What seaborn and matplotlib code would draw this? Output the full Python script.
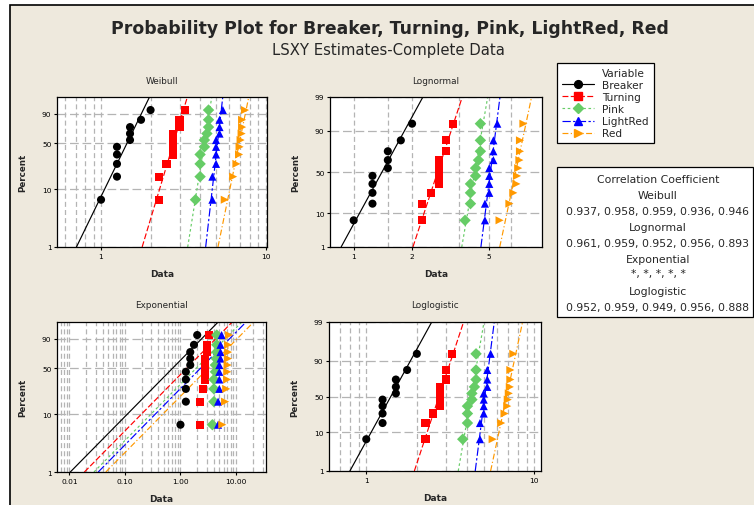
import numpy as np
import pandas as pd
import matplotlib.pyplot as plt
import seaborn as sns
from matplotlib.patches import Rectangle
from matplotlib.lines import Line2D
from matplotlib.ticker import NullFormatter, NullLocator
from statistics import NormalDist

np.seterr(all="ignore")

# ==============================
# Data
# ==============================
variables = ["Breaker", "Turning", "Pink", "LightRed", "Red"]
breaker = [1.0, 1.25, 1.25, 1.25, 1.25, 1.5, 1.5, 1.5, 1.75, 2.0]
turning = [2.25, 2.25, 2.5, 2.75, 2.75, 2.75, 2.75, 3.0, 3.0, 3.25]
pink = [3.75, 4.0, 4.0, 4.0, 4.25, 4.25, 4.4, 4.5, 4.5, 4.5]
lightred = [4.75, 4.75, 5.0, 5.0, 5.0, 5.0, 5.25, 5.25, 5.25, 5.5]
red = [5.65, 6.35, 6.65, 6.9, 6.95, 7.05, 7.15, 7.2, 7.2, 7.5]
percent = [6.7, 16.3, 25.9, 35.6, 45.2, 54.8, 64.4, 74.0, 83.7, 93.3]

corr_weibull = [0.937, 0.958, 0.959, 0.936, 0.946]
corr_lognormal = [0.961, 0.959, 0.952, 0.956, 0.893]
corr_loglogistic = [0.952, 0.959, 0.949, 0.956, 0.888]

series = dict(zip(variables, [breaker, turning, pink, lightred, red]))

palette = {"Breaker": "black", "Turning": "#FF0000", "Pink": "#66CC66",
           "LightRed": "#0000FF", "Red": "#FF9900"}
markers = {"Breaker": "o", "Turning": "s", "Pink": "D", "LightRed": "^", "Red": ">"}
dashes = {"Breaker": "", "Turning": (5, 2), "Pink": (2.2, 2.2),
          "LightRed": (7, 2, 2, 2), "Red": (5, 2, 1, 2)}

W, H = 754, 506


# ==============================
# Probability scales
# ==============================
def _q(p):
    return np.clip(np.asarray(p, dtype=float), 1e-6, 100 - 1e-6) / 100


def weib_f(p):
    q = _q(p)
    return np.log(-np.log(1 - q))


def weib_i(w):
    w = np.clip(np.asarray(w, dtype=float), -60, 4)
    return 100 * (1 - np.exp(-np.exp(w)))


_nd = NormalDist()
_ppf = np.vectorize(_nd.inv_cdf, otypes=[float])
_cdf = np.vectorize(_nd.cdf, otypes=[float])


def lnorm_f(p):
    return _ppf(_q(p))


def lnorm_i(z):
    return 100 * _cdf(np.clip(np.asarray(z, dtype=float), -40, 40))


def llog_f(p):
    q = _q(p)
    return np.log(q / (1 - q))


def llog_i(z):
    z = np.clip(np.asarray(z, dtype=float), -60, 60)
    return 100 / (1 + np.exp(-z))


panels = [
    dict(name="Weibull", fwd=weib_f, inv=weib_i, box=(57, 98, 267, 248),
         xlim=(0.54, 10.2), xticks=[1, 10], xlabels=["1", "10"],
         xgrid=[0.6, 0.7, 0.8, 0.9, 2, 3, 4, 5, 6, 7, 8, 9],
         yticks=[1, 10, 50, 90], kind="ls"),
    dict(name="Lognormal", fwd=lnorm_f, inv=lnorm_i, box=(330, 98, 542, 248),
         xlim=(0.755, 9.35), xticks=[1, 2, 5], xlabels=["1", "2", "5"],
         xgrid=[1.5, 3.5, 6.5],
         yticks=[1, 10, 50, 90, 99], kind="ls"),
    dict(name="Exponential", fwd=weib_f, inv=weib_i, box=(57, 323, 266, 473),
         xlim=(0.006, 34.6), xticks=[0.01, 0.1, 1, 10],
         xlabels=["0.01", "0.10", "1.00", "10.00"],
         xgrid=[m * d for d in [0.001, 0.01, 0.1, 1, 10] for m in range(2, 10)],
         yticks=[1, 10, 50, 90], kind="exp"),
    dict(name="Loglogistic", fwd=llog_f, inv=llog_i, box=(329, 323, 541, 472),
         xlim=(0.6, 10.96), xticks=[1, 10], xlabels=["1", "10"],
         xgrid=[0.7, 0.8, 0.9, 2, 3, 4, 5, 6, 7, 8, 9],
         yticks=[1, 10, 50, 90, 99], kind="ls"),
]

# long-form points table
pts = pd.DataFrame([(v, x, p) for v in variables
                    for x, p in zip(series[v], percent)],
                   columns=["Variable", "Data", "Percent"])


def fit_lines(cfg):
    # LSXY: regress (log) data on the transformed percent
    rows = []
    pct = np.array(percent)
    for v in variables:
        x = np.array(series[v])
        ends = np.array([1.0, 99.0])
        if cfg["kind"] == "exp":
            z = -np.log(1 - pct / 100)
            theta = np.sum(x * z) / np.sum(z * z)
            xs = theta * (-np.log(1 - ends / 100))
        else:
            b, a = np.polyfit(cfg["fwd"](pct), np.log(x), 1)
            xs = np.exp(a + b * cfg["fwd"](ends))
        for xx, pp in zip(xs, ends):
            rows.append((v, xx, pp))
    return pd.DataFrame(rows, columns=["Variable", "Data", "Percent"])


# ==============================
# Figure
# ==============================
sns.set_style("white")
plt.rcParams["font.family"] = ["DejaVu Sans"]

fig = plt.figure(figsize=(W / 100, H / 100), dpi=100)
fig.patch.set_facecolor("white")
bg = Rectangle((10 / W, -0.05), 1.1, 1.05 - 6 / H, transform=fig.transFigure,
               facecolor="#EEE9DD", edgecolor="black", linewidth=1.2, zorder=-5)
fig.add_artist(bg)

fig.text(390 / W, 1 - 29 / H, "Probability Plot for Breaker, Turning, Pink, LightRed, Red",
         ha="center", va="center", fontsize=12.4, fontweight="bold")
fig.text(388 / W, 1 - 50 / H, "LSXY Estimates-Complete Data",
         ha="center", va="center", fontsize=10.7)

grid_c = "#B4B4B4"
for cfg in panels:
    l, t, r, b = cfg["box"]
    ax = fig.add_axes([l / W, 1 - b / H, (r - l) / W, (b - t) / H])
    ax.set_facecolor("white")
    ax.set_xscale("log")
    ax.set_yscale("function", functions=(cfg["fwd"], cfg["inv"]))

    lines = fit_lines(cfg)
    sns.lineplot(data=lines, x="Data", y="Percent", hue="Variable", style="Variable",
                 hue_order=variables, style_order=variables, palette=palette,
                 dashes=dashes, estimator=None, sort=False, linewidth=0.85,
                 legend=False, ax=ax)
    sns.scatterplot(data=pts, x="Data", y="Percent", hue="Variable", style="Variable",
                    hue_order=variables, style_order=variables, palette=palette,
                    markers=markers, s=34, linewidth=0, legend=False, ax=ax, zorder=3)

    ax.set_xlim(*cfg["xlim"])
    ax.set_ylim(1, 99)
    ax.set_xticks(cfg["xticks"])
    ax.set_xticklabels(cfg["xlabels"])
    ax.set_xticks([g for g in cfg["xgrid"] if cfg["xlim"][0] < g < cfg["xlim"][1]], minor=True)
    ax.xaxis.set_minor_formatter(NullFormatter())
    ax.set_yticks(cfg["yticks"])
    ax.set_yticklabels([str(v) for v in cfg["yticks"]])
    ax.yaxis.set_minor_locator(NullLocator())

    ax.xaxis.grid(True, which="both", color=grid_c, linestyle=(0, (4, 2.5)), linewidth=0.9)
    ax.yaxis.grid(True, which="major", color=grid_c, linestyle=(0, (7, 3)), linewidth=0.9)
    ax.set_axisbelow(True)

    ax.tick_params(axis="both", which="major", direction="out", length=2.5, width=0.8,
                   labelsize=5.4, pad=1.5, colors="black", bottom=True, left=True)
    ax.tick_params(axis="both", which="minor", length=0)
    for s in ax.spines.values():
        s.set_color("black")
        s.set_linewidth(0.9)

    ax.set_xlabel("Data", fontsize=6.5, fontweight="bold")
    ax.set_ylabel("Percent", fontsize=6.3, fontweight="bold")
    ax.xaxis.set_label_coords(0.5, -22 / (b - t))
    ax.yaxis.set_label_coords(-30 / (r - l), 0.5)
    ax.text(0.5, 1 + 17 / (b - t), cfg["name"], transform=ax.transAxes,
            ha="center", va="center", fontsize=6.4)

# ==============================
# Legend
# ==============================
handles = [Line2D([], [], linestyle="none", marker="none", label="Variable")]
for v in variables:
    ls = "-" if dashes[v] == "" else (0, dashes[v])
    handles.append(Line2D([], [], color=palette[v], linestyle=ls, linewidth=0.85,
                          marker=markers[v], markersize=5.6, label=v))
leg = fig.legend(handles=handles, loc="upper left", bbox_to_anchor=(557 / W, 1 - 64 / H),
                 frameon=True, fancybox=False, edgecolor="black", facecolor="white",
                 framealpha=1, fontsize=7.6, handlelength=3.1, handletextpad=0.75,
                 labelspacing=0.2, borderpad=0.45, borderaxespad=0)
leg.get_frame().set_linewidth(0.9)

# ==============================
# Correlation coefficient box
# ==============================
fig.add_artist(Rectangle((557 / W, 1 - 318 / H), (753 - 557) / W, 150 / H,
                         transform=fig.transFigure, facecolor="white",
                         edgecolor="black", linewidth=0.9))


def fmt(vals):
    return ", ".join(f"{v:.3f}" for v in vals)


corr_lines = ["Correlation Coefficient", "Weibull", fmt(corr_weibull),
              "Lognormal", fmt(corr_lognormal), "Exponential",
              ", ".join(["*"] * 5), "Loglogistic", fmt(corr_loglogistic)]
corr_y = [180, 196, 212, 228, 244, 260, 274, 292, 308]
for txt, yy in zip(corr_lines, corr_y):
    fig.text(658 / W, 1 - yy / H, txt, ha="center", va="center", fontsize=7.8)

plt.savefig("out.png", dpi=100)
